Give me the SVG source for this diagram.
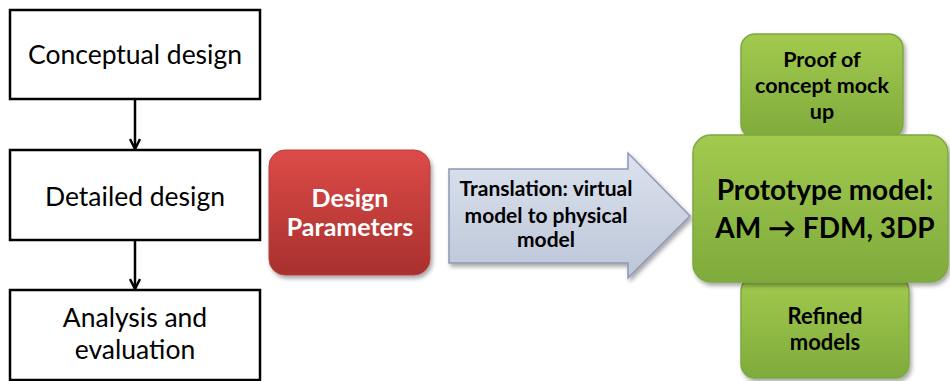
<svg xmlns="http://www.w3.org/2000/svg" width="950" height="381" viewBox="0 0 950 381">
<defs>
<style>
.box{fill:#fff;stroke:#000;stroke-width:2.5}
.lt{font-family:Lato,"Liberation Sans",sans-serif;font-size:26.5px;fill:#000;text-anchor:middle}
.conn{stroke:#000;stroke-width:2.5;fill:none}
.bt{font-family:Lato,"Liberation Sans",sans-serif;font-weight:bold;text-anchor:middle}
.green{fill:url(#gg);stroke:#7da843;stroke-width:1.5;filter:url(#sh)}
</style>
<linearGradient id="rg" x1="0" y1="0" x2="0" y2="1">
<stop offset="0" stop-color="#dc4b48"/>
<stop offset="1" stop-color="#a8302d"/>
</linearGradient>
<linearGradient id="gg" x1="0" y1="0" x2="0" y2="1">
<stop offset="0" stop-color="#a2ca4e"/>
<stop offset="1" stop-color="#7fab3c"/>
</linearGradient>
<linearGradient id="bg" x1="0" y1="0" x2="0" y2="1">
<stop offset="0" stop-color="#dce2ee"/>
<stop offset="1" stop-color="#bcc6d8"/>
</linearGradient>
<filter id="sh" x="-10%" y="-10%" width="125%" height="130%">
<feDropShadow dx="2" dy="3" stdDeviation="2" flood-color="#000" flood-opacity="0.35"/>
</filter>
<marker id="ah" viewBox="0 0 12 12" refX="11" refY="6" markerWidth="12" markerHeight="12" markerUnits="userSpaceOnUse" orient="auto">
<path d="M1,1 L11,6 L1,11" fill="none" stroke="#000" stroke-width="2.5"/>
</marker>
</defs>
<rect width="950" height="381" fill="#fff"/>

<g id="conceptual">
<rect class="box" x="10" y="10" width="250" height="89"/>
<text class="lt" x="135" y="64">Conceptual design</text>
</g>
<g id="detailed">
<rect class="box" x="10" y="150" width="250" height="90"/>
<text class="lt" x="135" y="206">Detailed design</text>
</g>
<g id="analysis">
<rect class="box" x="10" y="290" width="250" height="90"/>
<text class="lt" x="135" y="327">Analysis and</text>
<text class="lt" x="135" y="359">evaluation</text>
</g>

<g id="design-params">
<rect x="269" y="150" width="161" height="125" rx="16" fill="url(#rg)" stroke="#b5403c" stroke-width="1" filter="url(#sh)"/>
<text class="bt" x="350" y="207" font-size="25" fill="#fff">Design</text>
<text class="bt" x="350" y="236" font-size="25" fill="#fff">Parameters</text>
</g>

<g id="translation">
<path d="M449,169 L628,169 L628,153 L690,216 L628,278 L628,263 L449,263 Z" fill="url(#bg)" stroke="#8c98b4" stroke-width="1.5" filter="url(#sh)"/>
<text class="bt" x="546" y="196" font-size="21" fill="#000">Translation: virtual</text>
<text class="bt" x="546" y="223" font-size="21" fill="#000">model to physical</text>
<text class="bt" x="546" y="247" font-size="21" fill="#000">model</text>
</g>

<g id="proof">
<rect class="green" x="741" y="34" width="162" height="104" rx="14"/>
<text class="bt" x="822" y="67" font-size="21.5">Proof of</text>
<text class="bt" x="822" y="93" font-size="21.5">concept mock</text>
<text class="bt" x="822" y="119" font-size="21.5">up</text>
</g>
<g id="refined">
<rect class="green" x="741" y="277" width="168" height="101" rx="14"/>
<text class="bt" x="825" y="324" font-size="22">Refined</text>
<text class="bt" x="825" y="350" font-size="22">models</text>
</g>
<g id="prototype">
<rect class="green" x="693" y="135" width="255" height="147" rx="18"/>
<text class="bt" x="825" y="200" font-size="28">Prototype model:</text>
<text class="bt" x="825" y="238" font-size="28">AM → FDM, 3DP</text>
</g>

<g id="connectors">
<line class="conn" x1="135" y1="99" x2="135" y2="149" marker-end="url(#ah)"/>
<line class="conn" x1="135" y1="240" x2="135" y2="289" marker-end="url(#ah)"/>
</g>
</svg>
